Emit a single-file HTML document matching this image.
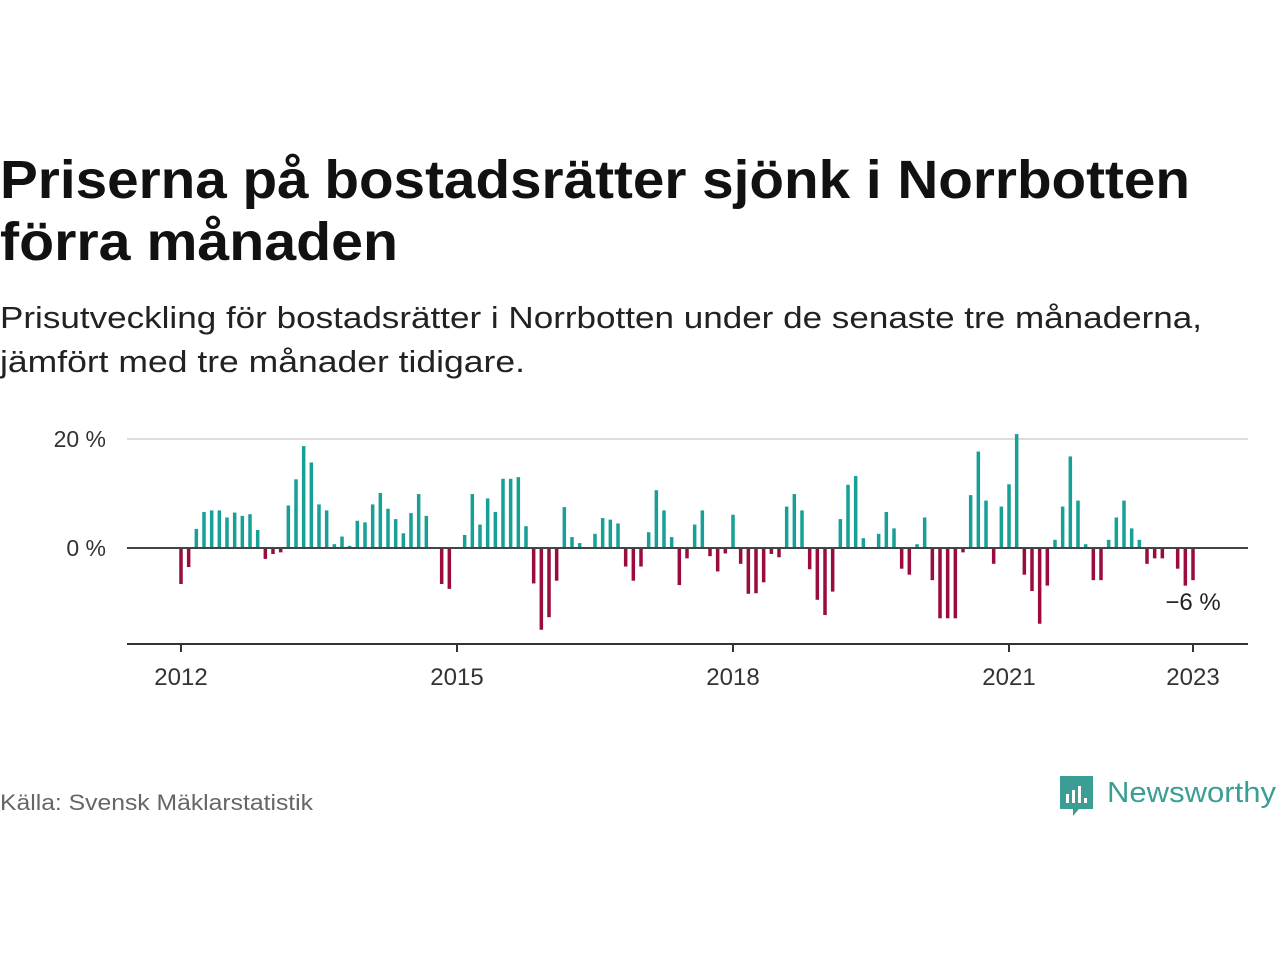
<!DOCTYPE html>
<html><head><meta charset="utf-8"><style>
html,body{margin:0;padding:0;background:#fff;}
svg{display:block;font-family:"Liberation Sans",sans-serif;}
</style></head><body>
<svg width="1280" height="960" viewBox="0 0 1280 960">
<text x="0" y="198" font-size="54" font-weight="bold" fill="#111" textLength="1190" lengthAdjust="spacingAndGlyphs">Priserna på bostadsrätter sjönk i Norrbotten</text>
<text x="0" y="260" font-size="54" font-weight="bold" fill="#111" textLength="398" lengthAdjust="spacingAndGlyphs">förra månaden</text>
<text x="0" y="328" font-size="31" fill="#222" textLength="1202" lengthAdjust="spacingAndGlyphs">Prisutveckling för bostadsrätter i Norrbotten under de senaste tre månaderna,</text>
<text x="0" y="372" font-size="31" fill="#222" textLength="525" lengthAdjust="spacingAndGlyphs">jämfört med tre månader tidigare.</text>
<g id="plot"></g>
<text x="0" y="810" font-size="22" fill="#666" textLength="313" lengthAdjust="spacingAndGlyphs">Källa: Svensk Mäklarstatistik</text>
<g>
<path d="M1060 776 h33 v33 h-14 l-6 7 v-7 h-13 z" fill="#3a9e94"/>
<rect x="1066" y="794" width="3" height="9" fill="#fff"/>
<rect x="1072" y="790" width="3" height="13" fill="#fff"/>
<rect x="1078" y="786" width="3" height="17" fill="#fff"/>
<rect x="1084" y="798" width="3" height="5" fill="#fff"/>
<text x="1107" y="802" font-size="29" fill="#3a9e94" textLength="169" lengthAdjust="spacingAndGlyphs">Newsworthy</text>
</g>
</svg>
<script>
const values = [-6.6,-3.5,3.5,6.6,6.9,6.9,5.6,6.5,5.9,6.2,3.3,-2.0,
-1.1,-0.8,7.8,12.6,18.7,15.7,8.0,6.9,0.7,2.1,0.4,5.0,
4.7,8.0,10.1,7.2,5.3,2.7,6.4,9.9,5.9,0,-6.6,-7.5,
0,2.4,9.9,4.3,9.1,6.6,12.7,12.7,13.0,4.0,-6.5,-15.0,
-12.7,-6.0,7.5,2.0,0.9,0,2.6,5.5,5.2,4.5,-3.4,-6.0,
-3.4,2.9,10.6,6.9,2.0,-6.8,-1.9,4.3,6.9,-1.5,-4.3,-1.0,
6.1,-2.9,-8.4,-8.3,-6.3,-1.1,-1.7,7.6,9.9,6.9,-3.9,-9.5,
-12.3,-8.0,5.3,11.6,13.2,1.8,0,2.6,6.6,3.6,-3.8,-4.9,
0.7,5.6,-5.9,-12.9,-12.9,-12.9,-0.8,9.7,17.7,8.7,-2.9,7.6,
11.7,20.9,-4.9,-7.9,-13.9,-6.9,1.5,7.6,16.8,8.7,0.7,-5.9,
-5.9,1.5,5.6,8.7,3.6,1.5,-2.9,-1.9,-1.9,0,-3.8,-6.9,
-5.9];
const startYear = 2012;
const yTicks = [0, 20];
const yTickLabels = ["0 %", "20 %"];
const xTickYears = [2012, 2015, 2018, 2021, 2023];
const lastLabel = "−6 %";

const NS = "http://www.w3.org/2000/svg";
const g = document.getElementById('plot');
const x = m => 181 + m * (276/36);
const y = v => 548 - v * (109/20);
function mk(tag, attrs){const e=document.createElementNS(NS,tag);for(const k in attrs)e.setAttribute(k,attrs[k]);g.appendChild(e);return e;}

yTicks.forEach((t,i)=>{
  if(t!==0){
    const l=mk('line',{x1:127,x2:1248,y1:y(t),y2:y(t),stroke:'#ddd','stroke-width':2});
    
    
  }
  const tx=mk('text',{x:106,y:y(t)+8,'font-size':23,fill:'#333','text-anchor':'end'});
  tx.textContent=yTickLabels[i];
  
  
});

values.forEach((v,i)=>{
  const top=Math.min(y(v),y(0)), h=Math.abs(y(v)-y(0));
  const r=mk('rect',{x:x(i)-1.75,y:top,width:3.5,height:Math.max(h,0),fill:v>=0?'#17a096':'#9a0b3f'});
  
  
});

const zl=mk('line',{x1:127,x2:1248,y1:y(0),y2:y(0),stroke:'#444','stroke-width':2});



const ax=mk('line',{x1:127,x2:1248,y1:644,y2:644,stroke:'#333','stroke-width':2});



xTickYears.forEach(yr=>{
  const xx=x((yr-startYear)*12);
  const t=mk('line',{x1:xx,x2:xx,y1:644,y2:652,stroke:'#333','stroke-width':2});
  
  
  const tx=mk('text',{x:xx,y:685,'font-size':24,fill:'#333','text-anchor':'middle'});
  tx.textContent=String(yr);
  
  
});

const li=values.length-1;
const lb=mk('text',{x:x(li),y:Math.max(y(values[li]),y(0))+30,'font-size':24,fill:'#222','text-anchor':'middle'});
lb.textContent=lastLabel;


</script>
</body></html>
